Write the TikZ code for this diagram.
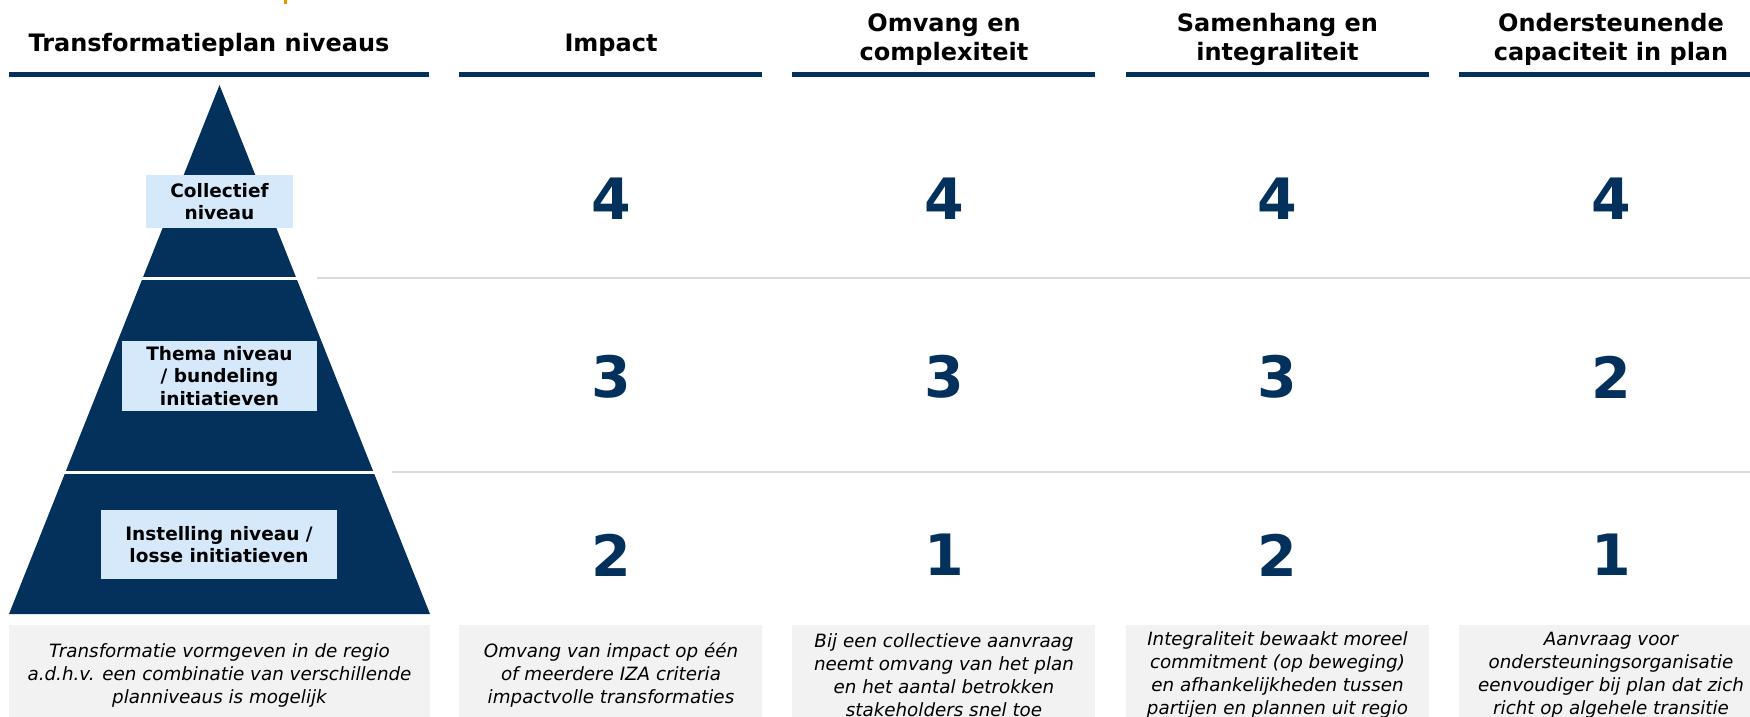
\documentclass[tikz,border=0pt]{standalone}
\usepackage{fontspec}
\setmainfont{DejaVu Sans}
\usepackage{xcolor}
\definecolor{navy}{RGB}{3,49,92}
\definecolor{lightblue}{RGB}{214,233,251}
\definecolor{boxgray}{RGB}{242,242,242}
\definecolor{rulegray}{RGB}{217,217,217}
\definecolor{accent}{RGB}{243,146,0}

\begin{document}
\begin{tikzpicture}[x=1pt,y=-1pt,node distance=178pt,
    head/.style={font=\fontsize{24}{29}\selectfont\bfseries,align=center,inner sep=0pt},
    score/.style={font=\fontsize{57}{60}\selectfont\bfseries,text=navy,inner sep=0pt},
    level/.style={fill=lightblue,font=\fontsize{18.5}{22.5}\selectfont\bfseries,align=center,inner sep=0pt},
    note/.style={font=\fontsize{18.3}{23}\selectfont\itshape,align=center,inner sep=0pt},
    bar/.style={navy,line width=5pt},
    sep/.style={rulegray,line width=2pt}]

            \useasboundingbox (0,0) rectangle (1750,716);
            \clip (0,0) rectangle (1750,716);

            \fill[accent] (284,0) rectangle (287,4);

            \node[head] (h0) at (209,45) {Transformatieplan niveaus};
            \node[head] (h1) at (611,45) {Impact};
            \node[head] (h2) at (944,39.5) {Omvang en\\complexiteit};
            \node[head] (h3) at (1277.5,39.5) {Samenhang en\\integraliteit};
            \node[head] (h4) at (1611,39.5) {Ondersteunende\\capaciteit in plan};

            \draw[bar] (9,74.5) -- (429,74.5);
            \draw[bar] (459,74.5) -- (762,74.5);
            \draw[bar] (792,74.5) -- (1095,74.5);
            \draw[bar] (1126,74.5) -- (1429,74.5);
            \draw[bar] (1459,74.5) -- (1750,74.5);

            \fill[navy] (219.5,85) -- (430,614) -- (9,614) -- cycle;
            \draw[white,line width=3pt] (130,278) -- (310,278);
            \draw[white,line width=3pt] (50,472) -- (385,472);

            \draw[sep] (317,278) -- (1750,278);
            \draw[sep] (392,472) -- (1750,472);

            \node[level,minimum width=147pt,minimum height=53pt] (l1) at (219.5,201.5) {Collectief\\niveau};
            \node[level,minimum width=195pt,minimum height=70pt] (l2) at (219.5,376) {Thema niveau\\/ bundeling\\initiatieven};
            \node[level,minimum width=236pt,minimum height=69pt] (l3) at (219,544.5) {Instelling niveau /\\losse initiatieven};

            \node[score] (s11) [below of = h1, yshift=24] {4};
            \node[score] (s12) [below of = s11] {3};
            \node[score] (s13) [below of = s12] {2};
            \node[score] (s21) [below of = h2, yshift=18.5] {4};
            \node[score] (s22) [below of = s21] {3};
            \node[score] (s23) [below of = s22] {1};
            \node[score] (s31) [below of = h3, yshift=18.5] {4};
            \node[score] (s32) [below of = s31] {3};
            \node[score] (s33) [below of = s32] {2};
            \node[score] (s41) [below of = h4, yshift=18.5] {4};
            \node[score] (s42) [below of = s41] {2};
            \node[score] (s43) [below of = s42] {1};

            \fill[boxgray] (9,625) rectangle (430,740);
            \fill[boxgray] (459,625) rectangle (762,740);
            \fill[boxgray] (792,625) rectangle (1095,740);
            \fill[boxgray] (1126,625) rectangle (1429,740);
            \fill[boxgray] (1459,625) rectangle (1750,740);

            \node[note] (n0) at (219.5,675) {Transformatie vormgeven in de regio\\a.d.h.v. een combinatie van verschillende\\planniveaus is mogelijk};
            \node[note] (n1) at (611,675) {Omvang van impact op één\\of meerdere IZA criteria\\impactvolle transformaties};
            \node[note] (n2) at (944,675) {Bij een collectieve aanvraag\\neemt omvang van het plan\\en het aantal betrokken\\stakeholders snel toe};
            \node[note] (n3) at (1277.5,675) {Integraliteit bewaakt moreel\\commitment (op beweging)\\en afhankelijkheden tussen\\partijen en plannen uit regio};
            \node[note] (n4) at (1611,675) {Aanvraag voor\\ondersteuningsorganisatie\\eenvoudiger bij plan dat zich\\richt op algehele transitie};
        \end{tikzpicture}
\end{document}
